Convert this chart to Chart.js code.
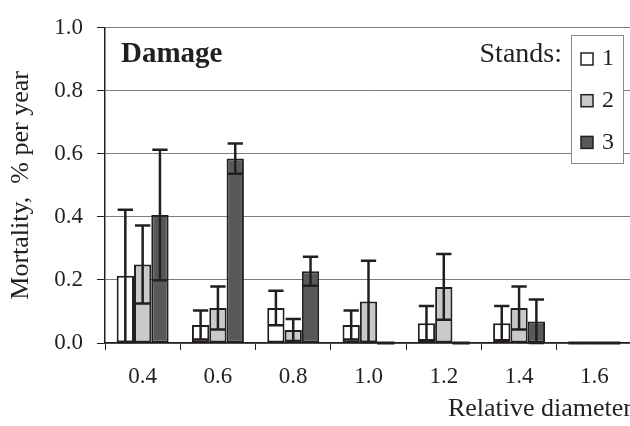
<!DOCTYPE html>
<html>
<head>
<meta charset="utf-8">
<script src="https://cdn.jsdelivr.net/npm/chart.js@4.4.1/dist/chart.umd.min.js"></script>
<style>
  html, body { margin: 0; padding: 0; background: #fff; overflow: hidden; }
  #wrap { width: 640px; height: 426px; }
</style>
</head>
<body>
<div id="wrap"><canvas id="chart" width="640" height="426"></canvas></div>
<script>
// data //////////////////////////////////////////////////////////////////////
const categories = ['0.4', '0.6', '0.8', '1.0', '1.2', '1.4', '1.6'];
const standLabels = ['1', '2', '3'];
const stand1 = [0.213, 0.057, 0.111, 0.057, 0.063, 0.063, 0];
const stand2 = [0.249, 0.111, 0.041, 0.132, 0.178, 0.111, 0];
const stand3 = [0.406, 0.585, 0.228, 0, 0, 0.068, 0];
const err1 = [0.21, 0.046, 0.055, 0.046, 0.054, 0.054, 0];
const err2 = [0.124, 0.068, 0.035, 0.129, 0.104, 0.068, 0];
const err3 = [0.207, 0.048, 0.046, 0, 0, 0.07, 0];
const yTicks = [0, 0.2, 0.4, 0.6, 0.8, 1.0];

const INK = '#231f20';
const SERIF = '"Liberation Serif", "Times New Roman", serif';
const fills = ['#ffffff', '#c9c9c9', '#58585a'];

// 에러바 + 0값 막대(바닥 선)
const errorBars = {
  id: 'errorBars',
  afterDatasetsDraw(chart) {
    const { ctx } = chart;
    const y = chart.scales.y;
    const base = y.getPixelForValue(0);
    ctx.save();
    ctx.strokeStyle = INK;
    chart.data.datasets.forEach((ds, i) => {
      const meta = chart.getDatasetMeta(i);
      meta.data.forEach((bar, j) => {
        const v = ds.data[j];
        const e = ds.errors[j];
        const half = bar.width / 2;
        if (v === 0) {
          ctx.lineWidth = 3;
          ctx.beginPath();
          ctx.moveTo(bar.x - half, base);
          ctx.lineTo(bar.x + half, base);
          ctx.stroke();
          return;
        }
        if (!e) return;
        const top = y.getPixelForValue(v + e);
        const bot = y.getPixelForValue(Math.max(0, v - e));
        const cap = half - 1;
        ctx.lineWidth = 2.5;
        ctx.beginPath();
        ctx.moveTo(bar.x, top);
        ctx.lineTo(bar.x, bot);
        ctx.moveTo(bar.x - cap, top);
        ctx.lineTo(bar.x + cap, top);
        ctx.moveTo(bar.x - cap, bot);
        ctx.lineTo(bar.x + cap, bot);
        ctx.stroke();
      });
    });
    ctx.restore();
  },
};

// 제목 + 범례 박스
const annotations = {
  id: 'annotations',
  afterDraw(chart) {
    const { ctx } = chart;
    ctx.save();
    ctx.textBaseline = 'middle';
    ctx.fillStyle = INK;
    ctx.font = 'bold 29px ' + SERIF;
    ctx.textAlign = 'left';
    ctx.fillText('Damage', 121, 55);
    ctx.font = '28px ' + SERIF;
    ctx.textAlign = 'right';
    ctx.fillText('Stands:', 562, 55);

    ctx.fillStyle = '#fff';
    ctx.fillRect(571, 35, 52, 128);
    ctx.strokeStyle = '#8a8a8a';
    ctx.lineWidth = 1;
    ctx.strokeRect(571.5, 35.5, 52, 128);

    chart.data.datasets.forEach((ds, i) => {
      const cy = 59 + i * 41.7;
      ctx.fillStyle = ds.backgroundColor;
      ctx.fillRect(581, cy - 6, 12, 12);
      ctx.strokeStyle = INK;
      ctx.lineWidth = 1.5;
      ctx.strokeRect(581, cy - 6, 12, 12);
      ctx.fillStyle = INK;
      ctx.font = '24px ' + SERIF;
      ctx.textAlign = 'left';
      ctx.fillText(ds.label, 602, cy);
    });
    ctx.restore();
  },
};

const series = [stand1, stand2, stand3];
const errors = [err1, err2, err3];

new Chart(document.getElementById('chart'), {
  type: 'bar',
  data: {
    labels: categories,
    datasets: series.map((data, i) => ({
      label: standLabels[i],
      data,
      errors: errors[i],
      backgroundColor: fills[i],
      borderColor: INK,
      borderWidth: 2,
      borderSkipped: false,
      categoryPercentage: 0.69,
      barPercentage: 1.0,
    })),
  },
  options: {
    responsive: false,
    animation: false,
    layout: { padding: { top: 19, right: 8, left: 0, bottom: 0 } },
    plugins: {
      legend: { display: false },
      tooltip: { enabled: false },
    },
    scales: {
      x: {
        grid: {
          display: true,
          drawOnChartArea: false,
          drawTicks: true,
          tickLength: 7,
          color: INK,
          lineWidth: 1,
        },
        border: { color: INK, width: 1.5 },
        ticks: {
          color: INK,
          font: { family: SERIF, size: 23 },
          padding: 13,
          maxRotation: 0,
        },
        title: {
          display: true,
          text: 'Relative diameter',
          align: 'end',
          color: INK,
          font: { family: SERIF, size: 26 },
          padding: { top: 0, bottom: 1 },
        },
        afterFit(scale) {
          scale.height = 83;
        },
      },
      y: {
        min: 0,
        max: 1.0,
        afterBuildTicks(scale) {
          scale.ticks = yTicks.map((v) => ({ value: v }));
        },
        grid: {
          color: '#7d7d7d',
          tickColor: INK,
          tickLength: 8,
          lineWidth: 1,
        },
        border: { color: INK, width: 1.5 },
        ticks: {
          color: INK,
          font: { family: SERIF, size: 23 },
          padding: 14,
          callback: (v) => Number(v).toFixed(1),
        },
        title: {
          display: true,
          text: 'Mortality,  % per year',
          color: INK,
          font: { family: SERIF, size: 26 },
          padding: { top: 6, bottom: 0 },
        },
        afterFit(scale) {
          scale.width = 105;
        },
      },
    },
  },
  plugins: [errorBars, annotations],
});
</script>
</body>
</html>
